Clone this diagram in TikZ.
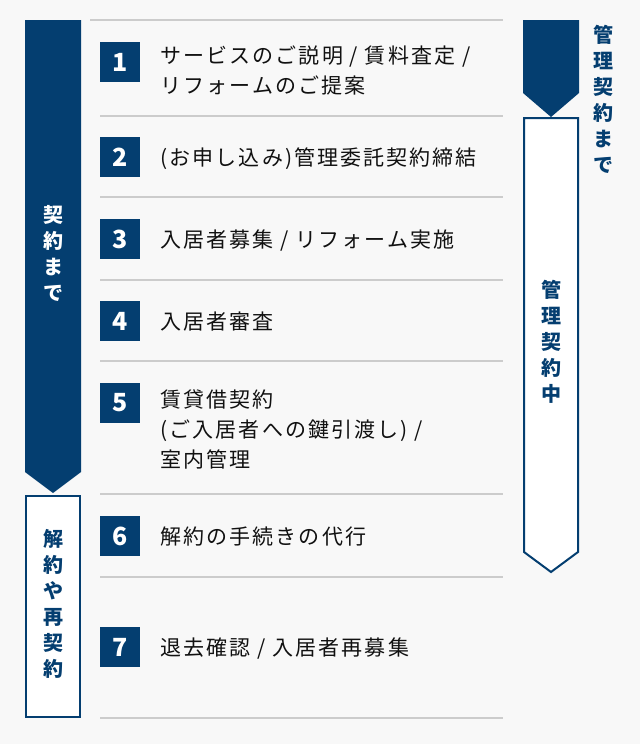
\documentclass[tikz,border=0pt]{standalone}
\usepackage{fontspec}
\setmainfont{Noto Sans CJK JP}
\usetikzlibrary{positioning}
\definecolor{MainNavy}{RGB}{4, 62, 112}
\definecolor{RuleGray}{RGB}{204, 204, 204}
\definecolor{PageBg}{RGB}{248, 248, 248}
\definecolor{InkColor}{RGB}{17, 17, 17}

\begin{document}
\begin{tikzpicture}[
        x=1pt, y=-1pt,
        num/.style={fill=MainNavy, text=white, minimum size=40pt, inner sep=0pt, font=\bfseries\fontsize{25}{25}\selectfont},
        item/.style={text=InkColor, inner sep=0pt, align=left, anchor=base west, font=\fontsize{21}{30}\selectfont\addfontfeature{LetterSpace=10}},
        phase/.style={inner sep=0pt, align=center, font=\bfseries\fontsize{20}{26}\selectfont},
        rule/.style={RuleGray, line width=1.5pt},
        frame/.style={draw=MainNavy, line width=2pt, fill=white}
    ]
    \fill[PageBg] (0,0) rectangle (640,744);

    % phase bars
    \fill[MainNavy] (25,20) -- (81,20) -- (81,472) -- (53,493) -- (25,472) -- cycle;
    \draw[frame] (26,496) rectangle (80,717);
    \fill[MainNavy] (523,20) -- (579,20) -- (579,93) -- (551,117) -- (523,93) -- cycle;
    \draw[frame] (524,118) -- (578,118) -- (578,552) -- (551,572) -- (524,552) -- cycle;

    \node[phase, text=white] (untilsign) at (53,253) {契\\約\\ま\\で};
    \node[phase, text=MainNavy] (renew) at (53,604) {解\\約\\や\\再\\契\\約};
    \node[phase, text=MainNavy] (managing) at (551,342) {管\\理\\契\\約\\中};
    \node[phase, text=MainNavy] (untilmgmt) at (603,99) {管\\理\\契\\約\\ま\\で};

    % rules
    \draw[rule] (90,20) -- (503,20);
    \draw[rule] (100,116) -- (503,116);
    \draw[rule] (100,197) -- (503,197);
    \draw[rule] (100,280) -- (503,280);
    \draw[rule] (100,361) -- (503,361);
    \draw[rule] (100,494) -- (503,494);
    \draw[rule] (100,577) -- (503,577);
    \draw[rule] (100,718) -- (503,718);

    % steps
    \node[num] (n1) at (120,62) {1};
    \node[num] (n2) at (120,157) {2};
    \node[num] (n3) at (120,239) {3};
    \node[num] (n4) at (120,321) {4};
    \node[num] (n5) at (120,403) {5};
    \node[num] (n6) at (120,536) {6};
    \node[num] (n7) at (120,647) {7};

    % multi-line texts sit on their last baseline
    \node[item] (t1) at ([xshift=20pt, yshift=-31pt]n1.east) {サービスのご説明 / 賃料査定 /\\リフォームのご提案};
    \node[item] (t2) at ([xshift=20pt, yshift=-8pt]n2.east) {(お申し込み)管理委託契約締結};
    \node[item] (t3) at ([xshift=20pt, yshift=-8pt]n3.east) {入居者募集 / リフォーム実施};
    \node[item] (t4) at ([xshift=20pt, yshift=-8pt]n4.east) {入居者審査};
    \node[item] (t5) at ([xshift=20pt, yshift=-64pt]n5.east) {賃貸借契約\\(ご入居者への鍵引渡し) /\\室内管理};
    \node[item] (t6) at ([xshift=20pt, yshift=-8pt]n6.east) {解約の手続きの代行};
    \node[item] (t7) at ([xshift=20pt, yshift=-8pt]n7.east) {退去確認 / 入居者再募集};
\end{tikzpicture}
\end{document}
